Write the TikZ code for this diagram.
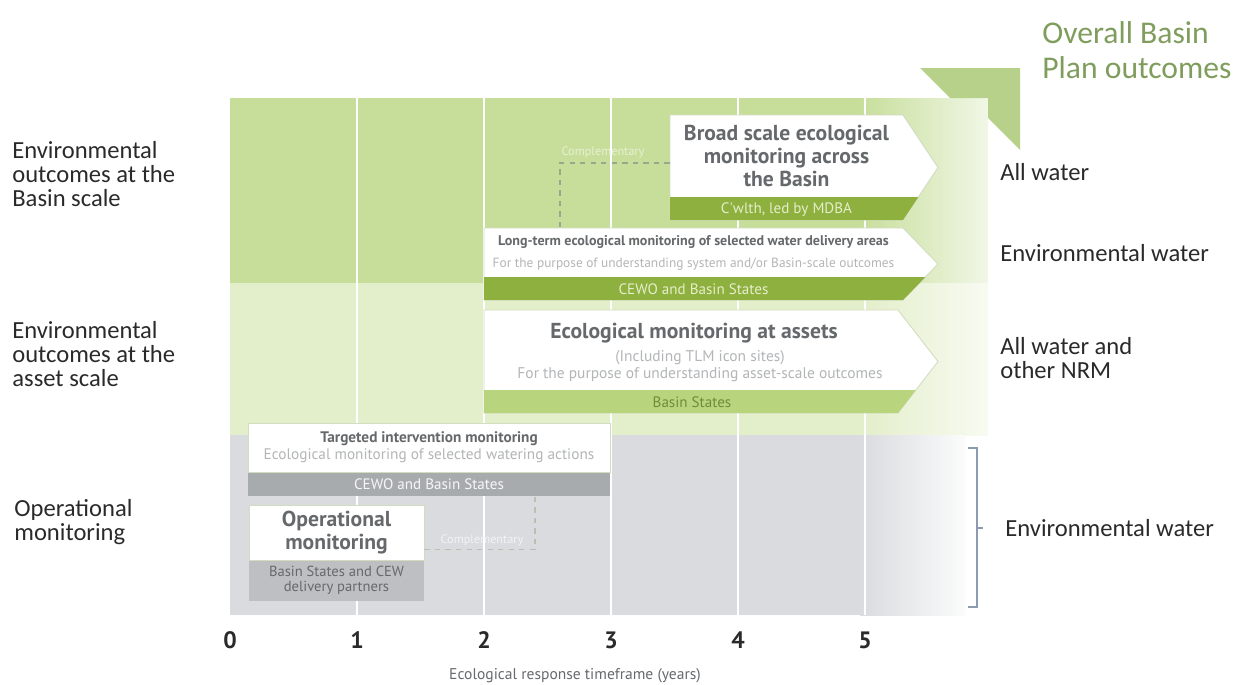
\documentclass[tikz,border=0pt]{standalone}
\usepackage{fontspec}
\setmainfont{Carlito}
\newfontfamily\dinfont{PT Sans}
\usetikzlibrary{positioning,calc}

\begin{document}
\begin{tikzpicture}[x=0.02cm, y=-0.02cm]
       \definecolor{topgreen}{HTML}{C7DE9B}
       \definecolor{midgreen}{HTML}{E3EECA}
       \definecolor{opgray}{HTML}{D9DBDE}
       \definecolor{chevgreen}{HTML}{B7D18B}
       \definecolor{darkgreen}{HTML}{8DB03E}
       \definecolor{lightgreen}{HTML}{B8D47C}
       \definecolor{darkgray}{HTML}{A8ABAE}
       \definecolor{lightgray}{HTML}{BDBFC2}
       \definecolor{boxedge}{HTML}{D2DCC0}
       \definecolor{titlegray}{HTML}{66696C}
       \definecolor{subgray}{HTML}{B3B5B7}
       \definecolor{tagtext}{HTML}{E6EECB}
       \definecolor{statestext}{HTML}{6F8C3A}
       \definecolor{labeltext}{HTML}{2A2A2A}
       \definecolor{overalltext}{HTML}{7F9D5C}
       \definecolor{dashgray}{HTML}{9AA68E}
       \definecolor{bracketblue}{HTML}{8C9BB0}

       \newcommand{\arrowpath}[4]{(#1,#2) -- ({938-#4},#2) -- (938,{(#2+#3)/2}) -- ({938-#4},#3) -- (#1,#3) -- cycle}
       \newcommand{\monarrow}[6]{
         \filldraw[boxline] \arrowpath{#1}{#2}{#4}{#5};
         \begin{scope}
           \clip (#1,#3) rectangle (1000,#4);
           \fill[#6] \arrowpath{#1}{#2}{#4}{#5};
         \end{scope}
       }

       \tikzstyle{gridline}  = [white, line width=1.6pt]
       \tikzstyle{boxline}   = [fill=white, draw=boxedge, line width=0.5pt]
       \tikzstyle{frame}     = [rectangle, inner sep=0pt, align=center, font=\dinfont]
       \tikzstyle{title}     = [frame, text=titlegray, font=\dinfont\bfseries\fontsize{12.3}{13}\selectfont]
       \tikzstyle{subtext}   = [frame, text=subgray, font=\dinfont\fontsize{8.8}{9.6}\selectfont]
       \tikzstyle{tag}       = [frame, minimum height=0.46cm, font=\dinfont\fontsize{8.6}{9}\selectfont]
       \tikzstyle{rowlabel}  = [anchor=west, align=left, inner sep=0pt, text=labeltext, font=\fontsize{14}{13.9}\selectfont]
       \tikzstyle{complabel} = [inner sep=0pt, font=\dinfont\fontsize{7}{8}\selectfont]
       \tikzstyle{compline}  = [dashed, dashgray, line width=0.6pt]
       \tikzstyle{ticklabel} = [inner sep=0pt, text=labeltext, font=\dinfont\bfseries\fontsize{13.5}{14}\selectfont]

       % bands
       \fill[topgreen] (230,98) rectangle (860,283);
       \shade[left color=topgreen, right color=topgreen!25] (860,98) rectangle (988,283);
       \fill[midgreen] (230,283) rectangle (860,435);
       \shade[left color=midgreen, right color=midgreen!25] (860,283) rectangle (988,435);
       \fill[opgray] (230,435) rectangle (860,615);
       \shade[left color=opgray, right color=opgray!10] (860,435) rectangle (965,615);
       \fill[chevgreen] (920,68) -- (1020,68) -- (1020,150) -- (988,118) -- (988,98) -- (950,98) -- cycle;

       \foreach \x in {357,484,611,738,865}
         \draw[gridline] (\x,98) -- (\x,615);

       % basin scale
       \monarrow{670}{115}{197}{220}{35}{darkgreen}
       \node [title, minimum width=4.66cm, minimum height=1.64cm] (broad) at (786.5,156) {Broad scale ecological\\monitoring across\\the Basin};
       \node [tag, below = 0pt of broad, text=tagtext] (broadtag) {C'wlth, led by MDBA};

       \monarrow{484}{228}{277}{300}{35}{darkgreen}
       \node [frame, minimum width=8.38cm, minimum height=0.98cm, font=\dinfont\fontsize{7.6}{12.5}\selectfont] (longterm) at (693.5,252.5)
         {\textcolor{titlegray}{\fontsize{8}{12.5}\selectfont\bfseries Long-term ecological monitoring of selected water delivery areas}\\\textcolor{subgray}{For the purpose of understanding system and/or Basin-scale outcomes}};
       \node [tag, below = 0pt of longterm, text=tagtext] (longtermtag) {CEWO and Basin States};

       % asset scale
       \monarrow{484}{310}{390}{413}{40}{lightgreen}
       \node [frame, minimum width=8.32cm, minimum height=1.6cm] (assets) at (692,350) {};
       \node [title] (assetstitle) at (694,333) {Ecological monitoring at assets};
       \node [subtext] (assetssub) at (700,366.5) {(Including TLM icon sites)\\For the purpose of understanding asset-scale outcomes};
       \node [tag, below = 0pt of assets, text=statestext] (assetstag) {Basin States};

       % operational
       \node [frame, fill=white, draw=boxedge, minimum width=7.24cm, minimum height=0.98cm, font=\dinfont\fontsize{8.7}{9.6}\selectfont] (target) at (429,447.5)
         {\textcolor{titlegray}{\bfseries Targeted intervention monitoring}\\\textcolor{subgray}{Ecological monitoring of selected watering actions}};
       \node [tag, below = 0pt of target, fill=darkgray, minimum width=7.24cm, text=white!90!darkgray] (targettag) {CEWO and Basin States};

       \node [title, fill=white, draw=boxedge, minimum width=3.5cm, minimum height=1.1cm] (operational) at (336.5,532.5) {Operational\\monitoring};
       \node [tag, below = 0pt of operational, fill=lightgray, minimum width=3.5cm, minimum height=0.8cm, text=titlegray, font=\dinfont\fontsize{8.3}{8.6}\selectfont] (optag) {Basin States and CEW\\delivery partners};

       % complementary links
       \coordinate (compA) at (560,0);
       \draw [compline] ([yshift=-0.14cm]broad.west) -| (compA |- longterm.north);
       \node [complabel, text=white!55!topgreen] (compAlabel) at (603,152) {Complementary};

       \coordinate (compB) at (535,0);
       \draw [compline, dashgray!70] ([yshift=-0.34cm]operational.east) -| (compB |- targettag.south);
       \node [complabel, text=white!65!opgray] (compBlabel) at (482,540) {Complementary};

       % row labels
       \node [rowlabel] (basinrow) at (12,174) {Environmental\\outcomes at the\\Basin scale};
       \node [rowlabel] (assetrow) at (12,354) {Environmental\\outcomes at the\\asset scale};
       \node [rowlabel] (oprow) at (14,522) {Operational\\monitoring};

       % outcomes
       \node [anchor=west, align=left, inner sep=0pt, text=overalltext, font=\fontsize{18}{19.8}\selectfont] (overall) at (1042,50) {Overall Basin\\Plan outcomes};
       \node [rowlabel] (allwater) at (1000,172) {All water};
       \node [rowlabel] (envwater) at (1000,253) {Environmental water};
       \node [rowlabel] (allnrm) at (1000,358) {All water and\\other NRM};
       \node [rowlabel] (envwaterop) at (1005,528) {Environmental water};
       \draw [bracketblue, line width=0.7pt] (968,448) -- (977,448) -- (977,607) -- (968,607);
       \draw [bracketblue, line width=0.7pt] (977,528) -- (983,528);

       % time axis
       \foreach \n in {0,...,5}
         \node [ticklabel] (tick\n) at ({230+127*\n},640) {\n};
       \node [complabel, text=titlegray, font=\dinfont\fontsize{8.85}{9}\selectfont] (axiscaption) at (575,676) {Ecological response timeframe (years)};

       \useasboundingbox (0,0) rectangle (1251,684);
\end{tikzpicture}
\end{document}
